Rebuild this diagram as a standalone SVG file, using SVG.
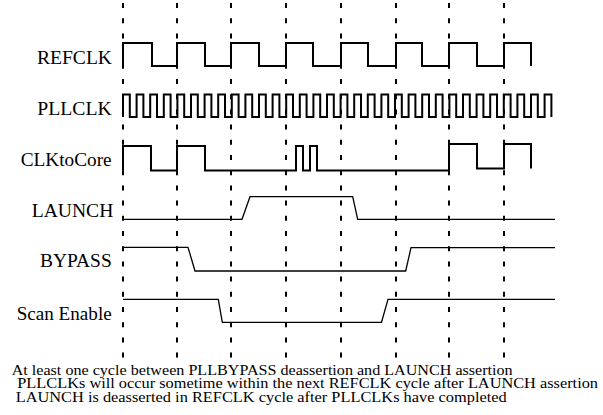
<svg xmlns="http://www.w3.org/2000/svg" width="603" height="415" viewBox="0 0 603 415">
<style>
.lbl{font-family:"Liberation Serif","Times New Roman",serif;font-size:18px;fill:#000}
.note{font-family:"Liberation Serif","Times New Roman",serif;font-size:14px;fill:#000}
.grid{stroke:#000;stroke-width:2;stroke-dasharray:5 10.2;fill:none}
.clk{stroke:#000;stroke-width:2;fill:none;stroke-linejoin:miter}
.sig{stroke:#000;stroke-width:1.3;fill:none}
</style>
<rect width="603" height="415" fill="#fff"/>
<g id="gridlines">
<line class="grid" x1="123" y1="3" x2="123" y2="360"/>
<line class="grid" x1="177" y1="3" x2="177" y2="360"/>
<line class="grid" x1="231" y1="3" x2="231" y2="360"/>
<line class="grid" x1="286" y1="3" x2="286" y2="360"/>
<line class="grid" x1="341" y1="3" x2="341" y2="360"/>
<line class="grid" x1="396" y1="3" x2="396" y2="360"/>
<line class="grid" x1="449" y1="3" x2="449" y2="360"/>
<line class="grid" x1="504" y1="3" x2="504" y2="360"/>
</g>
<g id="refclk">
<text class="lbl" x="37" y="64" textLength="75" lengthAdjust="spacingAndGlyphs">REFCLK</text>
<path class="clk" d="M123,66 V43 H152 V66 H177 V43 H205 V66 H231 V43 H259 V66 H286 V43 H313 V66 H341 V43 H368 V66 H396 V43 H422 V66 H449 V43 H477 V66 H504 V43 H531 V66"/>
</g>
<g id="pllclk">
<text class="lbl" x="37.3" y="115" textLength="74.4" lengthAdjust="spacingAndGlyphs">PLLCLK</text>
<path class="clk" d="M123,117 V94.5 H129.8 V117 H136.6 V94.5 H143.4 V117 H150.2 V94.5 H157 V117 H163.8 V94.5 H170.6 V117 H177.4 V94.5 H184.2 V117 H191 V94.5 H197.8 V117 H204.6 V94.5 H211.4 V117 H218.2 V94.5 H225 V117 H231.8 V94.5 H238.6 V117 H245.4 V94.5 H252.2 V117 H259 V94.5 H265.8 V117 H272.6 V94.5 H279.4 V117 H286.2 V94.5 H293 V117 H299.8 V94.5 H306.6 V117 H313.4 V94.5 H320.2 V117 H327 V94.5 H333.8 V117 H340.6 V94.5 H347.4 V117 H354.2 V94.5 H361 V117 H367.8 V94.5 H374.6 V117 H381.4 V94.5 H388.2 V117 H395 V94.5 H401.8 V117 H408.6 V94.5 H415.4 V117 H422.2 V94.5 H429 V117 H435.8 V94.5 H442.6 V117 H449.4 V94.5 H456.2 V117 H463 V94.5 H469.8 V117 H476.6 V94.5 H483.4 V117 H490.2 V94.5 H497 V117 H503.8 V94.5 H510.6 V117 H517.4 V94.5 H524.2 V117 H531 V94.5 H537.8 V117 H544.6 V94.5 H551.4 V117"/>
</g>
<g id="clktocore">
<text class="lbl" x="20.7" y="166" textLength="91" lengthAdjust="spacingAndGlyphs">CLKtoCore</text>
<path class="clk" d="M123,170.5 V146 H151 V170.5 H177 V146 H205 V170.5 H296 V146 H303 V170.5 H310 V146 H317 V170.5 H449 V144 H477 V168.5 H504 V144 H531 V168.5"/>
</g>
<g id="launch">
<text class="lbl" x="31.7" y="216.7" textLength="81.6" lengthAdjust="spacingAndGlyphs">LAUNCH</text>
<path class="sig" d="M123,219.3 H242 L250,196.7 H352.7 L357.7,219.3 H555"/>
</g>
<g id="bypass">
<text class="lbl" x="40" y="266.5" textLength="71.7" lengthAdjust="spacingAndGlyphs">BYPASS</text>
<path class="sig" d="M123,247.3 H188 L195,271 H405.7 L411,247.7 H555"/>
</g>
<g id="scanenable">
<text class="lbl" x="16.7" y="320" textLength="95" lengthAdjust="spacingAndGlyphs">Scan Enable</text>
<path class="sig" d="M123,299.3 H218.3 L222.3,322.3 H381.5 L388,299.3 H555"/>
</g>
<g id="notes">
<text class="note" x="11.7" y="374.5" textLength="501" lengthAdjust="spacingAndGlyphs">At least one cycle between PLLBYPASS deassertion and LAUNCH assertion</text>
<text class="note" x="17.3" y="388" textLength="580.7" lengthAdjust="spacingAndGlyphs">PLLCLKs will occur sometime within the next REFCLK cycle after LAUNCH assertion</text>
<text class="note" x="15.7" y="401.5" textLength="491" lengthAdjust="spacingAndGlyphs">LAUNCH is deasserted in REFCLK cycle after PLLCLKs have completed</text>
</g>
</svg>
